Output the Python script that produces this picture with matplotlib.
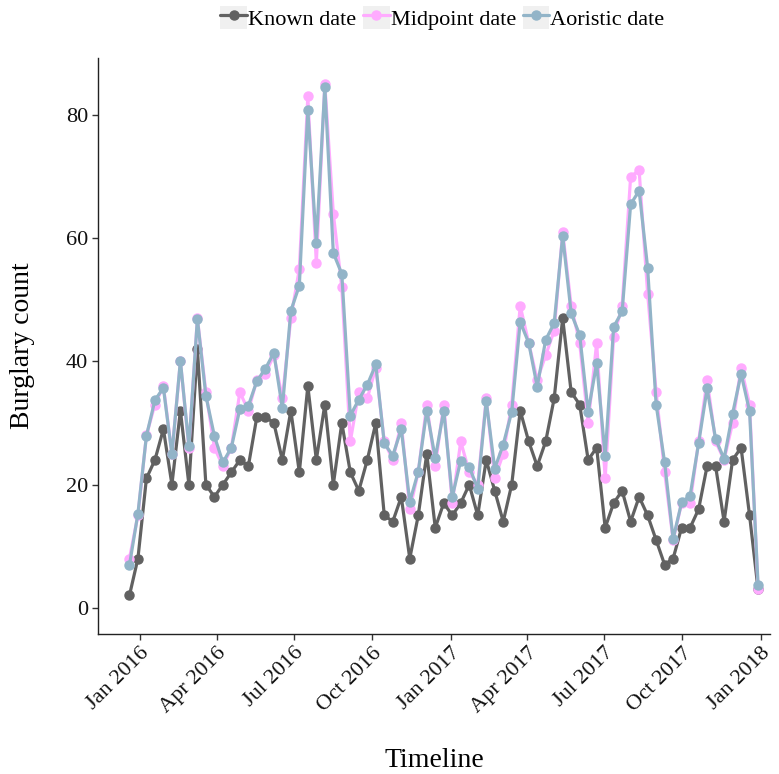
import matplotlib
matplotlib.use("Agg")
import matplotlib.pyplot as plt
import matplotlib.dates as mdates
from matplotlib.legend_handler import HandlerLine2D
from matplotlib.lines import Line2D
from matplotlib.patches import Rectangle
import pandas as pd

# 10-day periods, Dec 2015 - Dec 2017
periods = pd.date_range("2015-12-20", periods=75, freq="10D")

known = [2, 8, 21, 24, 29, 20, 32, 20, 42, 20, 18, 20, 22, 24, 23,
         31, 31, 30, 24, 32, 22, 36, 24, 33, 20, 30, 22, 19, 24, 30,
         15, 14, 18, 8, 15, 25, 13, 17, 15, 17, 20, 15, 24, 19, 14,
         20, 32, 27, 23, 27, 34, 47, 35, 33, 24, 26, 13, 17, 19, 14,
         18, 15, 11, 7, 8, 13, 13, 16, 23, 23, 14, 24, 26, 15, 3]

midpoint = [8, 15, 28, 33, 36, 25, 40, 26, 47, 35, 26, 23, 26, 35, 32,
            37, 38, 41, 34, 47, 55, 83, 56, 85, 64, 52, 27, 35, 34, 39,
            27, 24, 30, 16, 22, 33, 23, 33, 17, 27, 22, 20, 34, 21, 25,
            33, 49, 43, 37, 41, 45, 61, 49, 43, 30, 43, 21, 44, 49, 70,
            71, 51, 35, 22, 11, 17, 17, 27, 37, 27, 24, 30, 39, 33, 3]

aoristic = [6.9, 15.3, 27.9, 33.7, 35.7, 24.9, 40.1, 26.2, 46.9, 34.4,
            27.9, 23.6, 26.0, 32.3, 32.8, 36.8, 38.8, 41.4, 32.4, 48.2,
            52.3, 80.8, 59.2, 84.6, 57.6, 54.2, 31.2, 33.8, 36.2, 39.5,
            26.7, 24.7, 29.0, 17.2, 22.1, 32.0, 24.3, 32.0, 18.0, 23.9,
            22.9, 19.3, 33.6, 22.6, 26.5, 31.8, 46.4, 43.0, 35.9, 43.5,
            46.2, 60.4, 47.8, 44.3, 31.8, 39.7, 24.6, 45.6, 48.1, 65.5,
            67.7, 55.2, 33.0, 23.6, 11.2, 17.1, 18.2, 26.7, 35.6, 27.4,
            24.2, 31.5, 38.0, 31.9, 3.7]

series = [("Known date", known, "#616161"),
          ("Midpoint date", midpoint, "#ffabff"),
          ("Aoristic date", aoristic, "#92b4c8")]


class KeyHandler(HandlerLine2D):
    """legend key with a grey box behind it, ggplot style"""
    def create_artists(self, legend, orig_handle, xdescent, ydescent,
                       width, height, fontsize, trans):
        box = Rectangle((-xdescent, -ydescent), width, height,
                        facecolor="#f0f0f0", edgecolor="none", transform=trans)
        arts = super().create_artists(legend, orig_handle, xdescent, ydescent,
                                      width, height, fontsize, trans)
        return [box] + list(arts)


plt.rcParams["font.family"] = ["Liberation Serif", "DejaVu Serif"]

fig = plt.figure(figsize=(7.79, 7.74), dpi=100)
ax = fig.add_axes([0.1258, 0.1809, 0.8626, 0.7442])

handles = []
for name, vals, col in series:
    ln, = ax.plot(periods, vals, color=col, lw=2.3, marker="o", ms=6.5,
                  label=name, solid_capstyle="round")
    handles.append(ln)

ax.set_xlim(pd.Timestamp("2015-11-13"), pd.Timestamp("2018-01-12"))
ax.set_ylim(-4.25, 89.25)
ax.set_yticks([0, 20, 40, 60, 80])

ax.xaxis.set_major_locator(mdates.MonthLocator(bymonth=[1, 4, 7, 10]))
ax.xaxis.set_major_formatter(mdates.DateFormatter("%b %Y"))
plt.setp(ax.get_xticklabels(), rotation=45, ha="right", rotation_mode="anchor")

for side in ["top", "right"]:
    ax.spines[side].set_visible(False)
for side in ["left", "bottom"]:
    ax.spines[side].set_linewidth(1.0)
    ax.spines[side].set_color("#222222")
ax.tick_params(direction="out", length=4, width=1, color="#333333",
               labelsize=16, labelcolor="#111111", pad=3)

ax.set_xlabel("Timeline", fontsize=20, labelpad=22)
ax.set_ylabel("Burglary count", fontsize=20, labelpad=22)

fig.legend(handles=handles, loc="center", bbox_to_anchor=(0.568, 0.977),
           ncol=3, frameon=False, fontsize=16, numpoints=1,
           handlelength=1.2, handleheight=1.2, handletextpad=0.05,
           columnspacing=0.3, borderaxespad=0,
           handler_map={Line2D: KeyHandler()})

fig.savefig("out.png", dpi=100)
